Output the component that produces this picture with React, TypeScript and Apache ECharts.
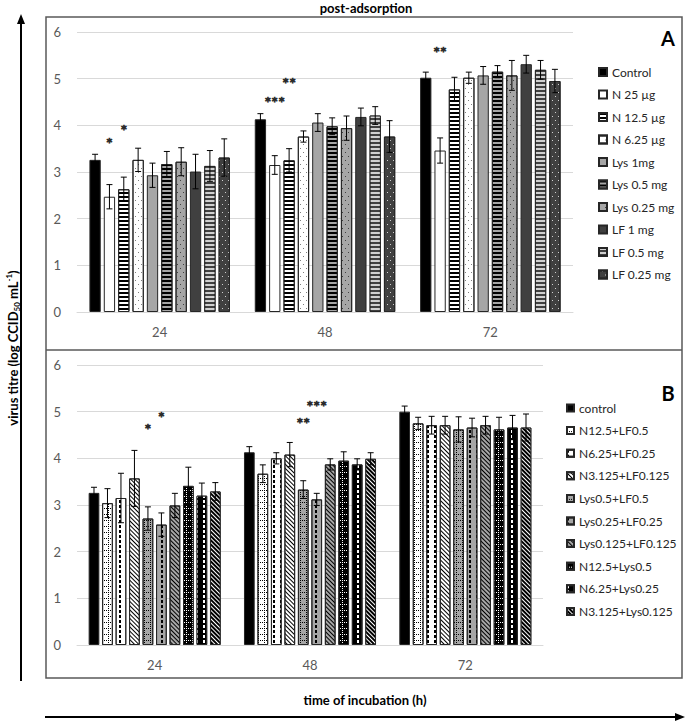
import React, { useEffect, useRef } from 'react';
import * as echarts from 'echarts';

// ---------- data ----------
const categories = ['24', '48', '72'];
const yMin = 0;
const yMax = 6;
const yInterval = 1;

const seriesNamesA = ['Control', 'N 25 µg', 'N 12.5 µg', 'N 6.25 µg', 'Lys 1mg', 'Lys 0.5 mg', 'Lys 0.25 mg', 'LF 1 mg', 'LF 0.5 mg', 'LF 0.25 mg'];
const valuesA = [
  [3.26, 4.13, 5.02],
  [2.47, 3.15, 3.46],
  [2.63, 3.25, 4.77],
  [3.26, 3.76, 5.02],
  [2.93, 4.06, 5.07],
  [3.17, 3.98, 5.15],
  [3.22, 3.94, 5.07],
  [3.01, 4.18, 5.31],
  [3.13, 4.21, 5.19],
  [3.31, 3.76, 4.95],
];
const errorsA = [
  [0.12, 0.12, 0.12],
  [0.26, 0.2, 0.27],
  [0.26, 0.25, 0.26],
  [0.25, 0.12, 0.12],
  [0.26, 0.19, 0.19],
  [0.27, 0.18, 0.13],
  [0.3, 0.26, 0.32],
  [0.37, 0.19, 0.19],
  [0.33, 0.19, 0.2],
  [0.4, 0.34, 0.25],
];

const seriesNamesB = ['control', 'N12.5+LF0.5', 'N6.25+LF0.25', 'N3.125+LF0.125', 'Lys0.5+LF0.5', 'Lys0.25+LF0.25', 'Lys0.125+LF0.125', 'N12.5+Lys0.5', 'N6.25+Lys0.25', 'N3.125+Lys0.125'];
const valuesB = [
  [3.26, 4.13, 5.0],
  [3.04, 3.67, 4.75],
  [3.15, 4.0, 4.71],
  [3.57, 4.08, 4.71],
  [2.71, 3.33, 4.62],
  [2.58, 3.12, 4.66],
  [2.99, 3.87, 4.71],
  [3.41, 3.95, 4.62],
  [3.2, 3.87, 4.66],
  [3.29, 3.99, 4.66],
];
const errorsB = [
  [0.12, 0.12, 0.12],
  [0.31, 0.19, 0.13],
  [0.53, 0.12, 0.19],
  [0.6, 0.26, 0.19],
  [0.25, 0.19, 0.27],
  [0.25, 0.13, 0.2],
  [0.26, 0.12, 0.19],
  [0.4, 0.19, 0.26],
  [0.27, 0.12, 0.26],
  [0.19, 0.13, 0.29],
];

// significance marks: category index, bar index, height (y units), text
const starCatA = [0, 0, 1, 1, 2];
const starBarA = [1, 2, 1, 2, 1];
const starLevelA = [3.72, 4.0, 4.59, 5.01, 5.67];
const starTextA = ['*', '*', '***', '**', '**'];

const starCatB = [0, 0, 1, 1];
const starBarB = [4, 5, 4, 5];
const starLevelB = [4.72, 4.99, 4.85, 5.22];
const starTextB = ['*', '*', '**', '***'];

// ---------- styles ----------
const FONT = 'Lato, "Open Sans", sans-serif';
const BAR_W_A = 11.3;
const GAP_A = 0.27;
const BAR_W_B = 10.7;
const GAP_B = 0.26;
const INK = '#262626';

const hStripes = (color: string) => ({ symbol: 'rect', symbolSize: 1, color, dashArrayX: [1, 0], dashArrayY: [2, 2] });
const dots = (color: string) => ({ symbol: 'rect', symbolSize: 1, color, dashArrayX: [[1, 5], [0, 3, 1, 2]], dashArrayY: [1, 3] });
const dotGrid = (color: string) => ({ symbol: 'rect', symbolSize: 1, color, dashArrayX: [[1, 1], [1, 5], [1, 5]], dashArrayY: [1, 1] });
const vDashes = (color: string) => ({ symbol: 'rect', symbolSize: 1, color, dashArrayX: [2, 5], dashArrayY: [3, 2] });
const diag = (color: string) => ({ symbol: 'rect', symbolSize: 1, color, dashArrayX: [1, 0], dashArrayY: [1, 2], rotation: Math.PI / 4 });

const styleA: any[] = [
  { color: '#000000' },
  { color: '#ffffff' },
  { color: '#ffffff', decal: hStripes('#000000') },
  { color: '#ffffff', decal: dots('#7f7f7f') },
  { color: '#a6a6a6' },
  { color: '#a6a6a6', decal: hStripes('#000000') },
  { color: '#a6a6a6', decal: dots('#404040') },
  { color: '#404040' },
  { color: '#404040', decal: hStripes('#d0d0d0') },
  { color: '#404040', decal: dots('#d0d0d0') },
];
const styleB: any[] = [
  { color: '#000000' },
  { color: '#ffffff', decal: dotGrid('#000000') },
  { color: '#ffffff', decal: vDashes('#000000') },
  { color: '#ffffff', decal: diag('#000000') },
  { color: '#a6a6a6', decal: dotGrid('#000000') },
  { color: '#a6a6a6', decal: vDashes('#000000') },
  { color: '#a6a6a6', decal: diag('#000000') },
  { color: '#000000', decal: dotGrid('#ffffff') },
  { color: '#000000', decal: vDashes('#ffffff') },
  { color: '#000000', decal: diag('#ffffff') },
];

function barCenterOffset(i: number, n: number, w: number, g: number) {
  const total = n * w * (1 + g) - w * g;
  return -total / 2 + i * w * (1 + g) + w / 2;
}

function buildBars(names: string[], values: number[][], styles: any[], axis: number, w: number, g: number) {
  return names.map((name, i) => {
    const itemStyle: any = { color: styles[i].color, borderColor: INK, borderWidth: 1 };
    if (styles[i].decal) itemStyle.decal = styles[i].decal;
    return {
      type: 'bar',
      name,
      xAxisIndex: axis,
      yAxisIndex: axis,
      data: values[i],
      barWidth: w,
      barGap: `${g * 100}%`,
      itemStyle,
      emphasis: { disabled: true },
      z: 2,
    };
  });
}

function buildErrors(values: number[][], errors: number[][], axis: number, w: number, g: number) {
  const data: number[][] = [];
  values.forEach((row, si) => row.forEach((v, ci) => data.push([ci, si, v, errors[si][ci]])));
  const n = values.length;
  return {
    type: 'custom',
    xAxisIndex: axis,
    yAxisIndex: axis,
    z: 5,
    silent: true,
    itemStyle: { color: '#000000' },
    encode: { x: 0, y: 2 },
    data,
    renderItem: (params: any, api: any) => {
      const ci = api.value(0);
      const si = api.value(1);
      const v = api.value(2);
      const e = api.value(3);
      const hi = api.coord([ci, v + e]);
      const lo = api.coord([ci, v - e]);
      const x = hi[0] + barCenterOffset(si, n, w, g);
      const cap = 3;
      const st = { stroke: '#000000', lineWidth: 1 };
      return {
        type: 'group',
        children: [
          { type: 'line', shape: { x1: x, y1: hi[1], x2: x, y2: lo[1] }, style: st },
          { type: 'line', shape: { x1: x - cap, y1: hi[1], x2: x + cap, y2: hi[1] }, style: st },
          { type: 'line', shape: { x1: x - cap, y1: lo[1], x2: x + cap, y2: lo[1] }, style: st },
        ],
      };
    },
  };
}

function buildStars(cats: number[], bars: number[], levels: number[], texts: string[], axis: number, n: number, w: number, g: number) {
  const data = cats.map((c, i) => [c, bars[i], levels[i]]);
  return {
    type: 'custom',
    xAxisIndex: axis,
    yAxisIndex: axis,
    z: 6,
    silent: true,
    itemStyle: { color: INK },
    encode: { x: 0, y: 2 },
    data,
    renderItem: (params: any, api: any) => {
      const ci = api.value(0);
      const bi = api.value(1);
      const lv = api.value(2);
      const p = api.coord([ci, lv]);
      return {
        type: 'text',
        x: p[0] + barCenterOffset(bi, n, w, g),
        y: p[1] + 4,
        style: {
          text: texts[params.dataIndex],
          fill: INK,
          stroke: INK,
          lineWidth: 0.6,
          fontSize: 16,
          fontWeight: 'bold',
          fontFamily: FONT,
          align: 'center',
          verticalAlign: 'middle',
        },
      };
    },
  };
}

function makeXAxis(gridIndex: number) {
  return {
    gridIndex,
    type: 'category',
    data: categories,
    axisTick: { show: false },
    axisLine: { lineStyle: { color: '#d9d9d9', width: 1 } },
    axisLabel: { color: '#595959', fontSize: 13, margin: 13, fontFamily: FONT },
  };
}
function makeYAxis(gridIndex: number) {
  return {
    gridIndex,
    type: 'value',
    min: yMin,
    max: yMax,
    interval: yInterval,
    axisLine: { show: false },
    axisTick: { show: false },
    splitLine: { lineStyle: { color: '#d9d9d9', width: 1 } },
    axisLabel: { color: '#595959', fontSize: 13, margin: 16, fontFamily: FONT },
  };
}

export default function App() {
  const ref = useRef<HTMLDivElement>(null);
  useEffect(() => {
    document.body.style.margin = '0';
    if (!ref.current) return;
    const chart = echarts.init(ref.current, undefined, { renderer: 'svg' });
    const option: any = {
      animation: false,
      backgroundColor: '#ffffff',
      textStyle: { fontFamily: FONT },
      grid: [
        { left: 77, right: 112, top: 32, height: 280 },
        { left: 77, right: 142, top: 365, height: 280 },
      ],
      xAxis: [makeXAxis(0), makeXAxis(1)],
      yAxis: [makeYAxis(0), makeYAxis(1)],
      legend: [
        {
          data: seriesNamesA,
          orient: 'vertical',
          left: 593,
          top: 61,
          itemWidth: 8,
          itemHeight: 8,
          itemGap: 10.5,
          icon: 'rect',
          selectedMode: false,
          textStyle: { fontSize: 12, color: INK, fontFamily: FONT },
        },
        {
          data: seriesNamesB,
          orient: 'vertical',
          left: 561,
          top: 397,
          itemWidth: 7,
          itemHeight: 7,
          itemGap: 10.6,
          icon: 'rect',
          selectedMode: false,
          textStyle: { fontSize: 12, color: INK, fontFamily: FONT },
        },
      ],
      series: [
        ...buildBars(seriesNamesA, valuesA, styleA, 0, BAR_W_A, GAP_A),
        ...buildBars(seriesNamesB, valuesB, styleB, 1, BAR_W_B, GAP_B),
        buildErrors(valuesA, errorsA, 0, BAR_W_A, GAP_A),
        buildErrors(valuesB, errorsB, 1, BAR_W_B, GAP_B),
        buildStars(starCatA, starBarA, starLevelA, starTextA, 0, seriesNamesA.length, BAR_W_A, GAP_A),
        buildStars(starCatB, starBarB, starLevelB, starTextB, 1, seriesNamesB.length, BAR_W_B, GAP_B),
      ],
      graphic: [
        { type: 'rect', silent: true, shape: { x: 46, y: 17, width: 636, height: 661 }, style: { fill: 'none', stroke: '#595959', lineWidth: 1.5 } },
        { type: 'line', silent: true, shape: { x1: 46, y1: 350, x2: 682, y2: 350 }, style: { stroke: '#595959', lineWidth: 1.5 } },
        { type: 'text', silent: true, x: 366, y: 8, style: { text: 'post-adsorption', fill: '#000000', fontSize: 13, fontWeight: 'bold', fontFamily: FONT, align: 'center', verticalAlign: 'middle' } },
        { type: 'text', silent: true, x: 668, y: 38, style: { text: 'A', fill: '#000000', fontSize: 20, fontWeight: 'bold', fontFamily: FONT, align: 'center', verticalAlign: 'middle' } },
        { type: 'text', silent: true, x: 668, y: 393, style: { text: 'B', fill: '#000000', fontSize: 20, fontWeight: 'bold', fontFamily: FONT, align: 'center', verticalAlign: 'middle' } },
        {
          type: 'text', silent: true, x: 13, y: 348, rotation: Math.PI / 2,
          style: {
            text: '{a|virus titre (log CCID}{s|50}{a| mL}{p|-1}{a|)}',
            align: 'center', verticalAlign: 'middle',
            rich: {
              a: { fontSize: 13, fontWeight: 'bold', fontFamily: FONT, fill: '#000000', lineHeight: 16 },
              s: { fontSize: 8, fontWeight: 'bold', fontFamily: FONT, fill: '#000000', lineHeight: 10, verticalAlign: 'bottom' },
              p: { fontSize: 8, fontWeight: 'bold', fontFamily: FONT, fill: '#000000', lineHeight: 10, verticalAlign: 'top' },
            },
          },
        },
        { type: 'line', silent: true, shape: { x1: 21, y1: 681, x2: 21, y2: 22 }, style: { stroke: '#000000', lineWidth: 2 } },
        { type: 'polygon', silent: true, shape: { points: [[21, 14], [17, 24], [25, 24]] }, style: { fill: '#000000' } },
        { type: 'text', silent: true, x: 365, y: 700, style: { text: 'time of incubation (h)', fill: '#000000', fontSize: 13, fontWeight: 'bold', fontFamily: FONT, align: 'center', verticalAlign: 'middle' } },
        { type: 'line', silent: true, shape: { x1: 45, y1: 717, x2: 676, y2: 717 }, style: { stroke: '#000000', lineWidth: 2 } },
        { type: 'polygon', silent: true, shape: { points: [[685, 717], [675, 713], [675, 721]] }, style: { fill: '#000000' } },
      ],
    };
    chart.setOption(option);
    return () => chart.dispose();
  }, []);
  return <div ref={ref} style={{ width: 685, height: 726 }} />;
}
